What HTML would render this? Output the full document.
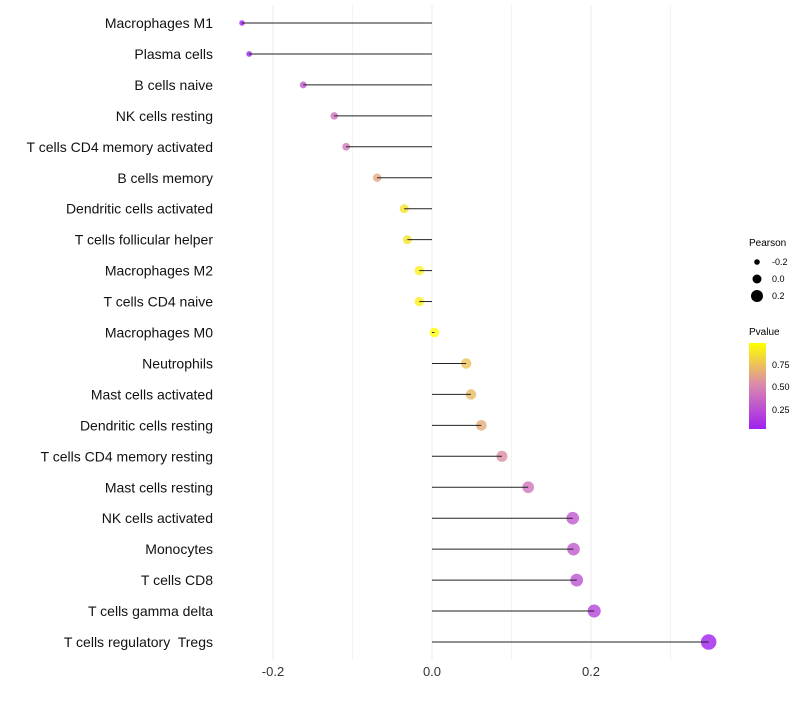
<!DOCTYPE html>
<html><head><meta charset="utf-8"><style>
body{margin:0;background:#fff;font-family:"Liberation Sans",sans-serif}
text{white-space:pre}
</style></head><body>
<svg id="c" width="800" height="700" xmlns="http://www.w3.org/2000/svg">
<defs><linearGradient id="pg" x1="0" y1="1" x2="0" y2="0">
<stop offset="0" stop-color="#a020f0"/><stop offset="0.5" stop-color="#d986b0"/><stop offset="1" stop-color="#ffff00"/></linearGradient></defs>
<g id="grid"></g><g id="marks"></g><g id="labels"></g>
<g font-size="9">
<text x="749" y="246" font-size="10">Pearson</text>
<circle cx="757" cy="262" r="2.8" fill="#000"/><text x="772" y="265">-0.2</text>
<circle cx="757" cy="279" r="4.5" fill="#000"/><text x="772" y="282">0.0</text>
<circle cx="757" cy="296" r="6" fill="#000"/><text x="772" y="299">0.2</text>
<text x="749" y="335" font-size="10">Pvalue</text>
<rect x="749" y="343" width="17" height="86" fill="url(#pg)"/>
<text x="772" y="368">0.75</text><text x="772" y="390">0.50</text><text x="772" y="413">0.25</text>
</g>
</svg>
<script>
const categories=["Macrophages M1","Plasma cells","B cells naive","NK cells resting","T cells CD4 memory activated","B cells memory","Dendritic cells activated","T cells follicular helper","Macrophages M2","T cells CD4 naive","Macrophages M0","Neutrophils","Mast cells activated","Dendritic cells resting","T cells CD4 memory resting","Mast cells resting","NK cells activated","Monocytes","T cells CD8","T cells gamma delta","T cells regulatory  Tregs"];
const pearson=[-0.239,-0.230,-0.162,-0.123,-0.108,-0.069,-0.035,-0.031,-0.016,-0.016,0.003,0.043,0.049,0.062,0.088,0.121,0.177,0.178,0.182,0.204,0.348];
const pvalues=[0.03,0.05,0.3,0.42,0.45,0.65,0.88,0.88,0.93,0.93,0.99,0.75,0.72,0.66,0.55,0.43,0.3,0.3,0.27,0.2,0.03];
const xTicks=[-0.2,0.0,0.2];
const xMinor=[-0.1,0.1,0.3];
const NS="http://www.w3.org/2000/svg";
const xs=v=>432+v*795;
const ys=i=>23+i*30.95;
const rs=v=>Math.max(1.8,4.8+v*8.5);
function mix(a,b,t){return a.map((x,i)=>Math.round(x+(b[i]-x)*t));}
function col(p){const c0=[160,32,240],c1=[217,134,176],c2=[255,255,0];
 const t=Math.min(1,Math.max(0,(p-0.04)/0.95));
 const c=t<0.5?mix(c0,c1,t*2):mix(c1,c2,(t-0.5)*2);return `rgb(${c})`;}
function el(t,a,p){const e=document.createElementNS(NS,t);for(const k in a)e.setAttribute(k,a[k]);p.appendChild(e);return e;}
const grid=document.getElementById('grid'),marks=document.getElementById('marks'),labels=document.getElementById('labels');
xMinor.forEach(v=>{const l=el('line',{x1:xs(v),x2:xs(v),y1:5,y2:660,stroke:'#f3f3f3','stroke-width':1},grid);

});
xTicks.forEach(v=>{const l=el('line',{x1:xs(v),x2:xs(v),y1:5,y2:660,stroke:'#ebebeb','stroke-width':1},grid);


const t=el('text',{x:xs(v),y:676,'text-anchor':'middle','font-size':13,fill:'#333'},labels);t.textContent=v.toFixed(1);

});
categories.forEach((c,i)=>{const y=ys(i);
const p=el('circle',{cx:xs(pearson[i]),cy:y,r:rs(pearson[i]),fill:col(pvalues[i]),'fill-opacity':0.8},marks);


const s=el('line',{x1:xs(0),x2:xs(pearson[i]),y1:y,y2:y,stroke:'#222','stroke-width':1},marks);


const t=el('text',{x:213,y:y+5,'text-anchor':'end','font-size':14,fill:'#111'},labels);t.textContent=c;

});
</script>
</body></html>
